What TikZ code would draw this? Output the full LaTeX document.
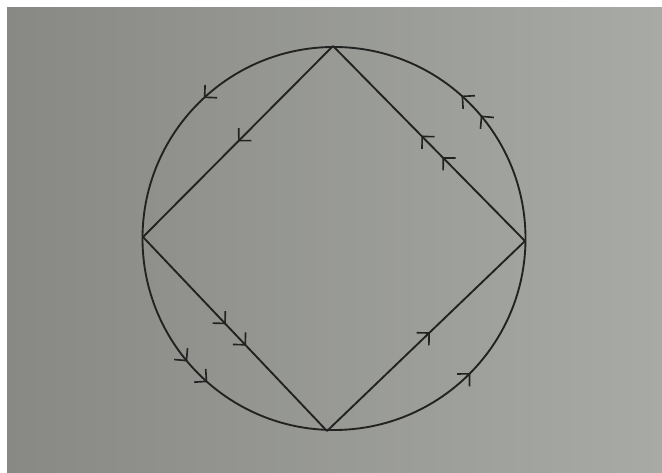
\documentclass[tikz,border=0pt]{standalone}
\usetikzlibrary{arrows.meta,decorations.markings}

\definecolor{paperleft}{RGB}{136,137,133}
\definecolor{paperright}{RGB}{168,170,166}
\definecolor{ink}{RGB}{34,34,34}

\tikzset{
  >={Straight Barb[length=7.5pt,width=15pt]},
  inkline/.style={draw=ink,line width=1.6pt},
  tipat/.style={postaction={decorate,decoration={markings,
    mark=at position #1 with {\arrow[ink,line width=1.4pt]{>}}}}}
}

\begin{document}
\begin{tikzpicture}[x=0.03cm,y=0.03cm]
\useasboundingbox (0,0) rectangle (662,473);
\shade[left color=paperleft,right color=paperright] (7,0) rectangle (662,465);

\coordinate (O) at (334,234.5);
\coordinate (T) at (333,427);
\coordinate (L) at (143,236);
\coordinate (B) at (327,42);
\coordinate (R) at (525,232);

% circle, arrows run anticlockwise
\draw[inkline,tipat=0.111,tipat=0.134,tipat=0.369,tipat=0.611,tipat=0.635,tipat=0.876]
  (O) circle[radius=5.745cm];

% square
\draw[inkline,tipat=0.5] (T) -- (L);
\draw[inkline,tipat=0.45,tipat=0.56] (L) -- (B);
\draw[inkline,tipat=0.52] (B) -- (R);
\draw[inkline,tipat=0.43,tipat=0.54] (R) -- (T);
\end{tikzpicture}
\end{document}
